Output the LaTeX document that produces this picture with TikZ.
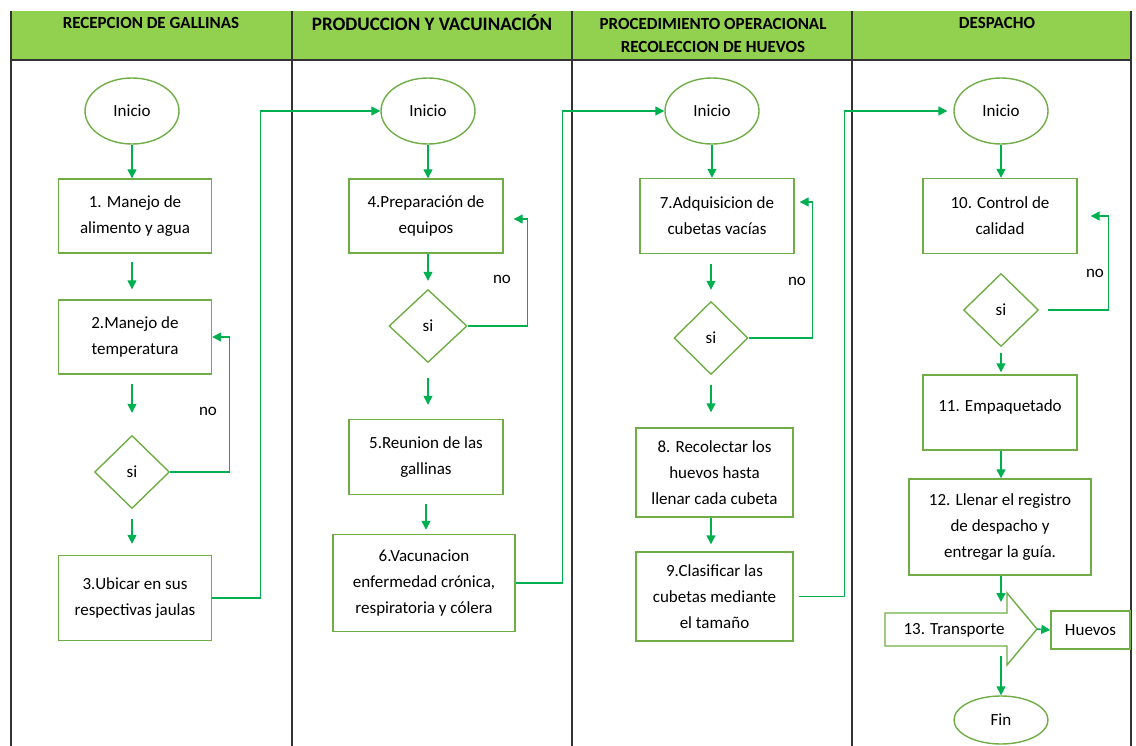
\documentclass[tikz,border=0pt]{standalone}
\usepackage{fontspec}
\setmainfont{Carlito}
\usetikzlibrary{shapes.geometric,arrows.meta,positioning}
\definecolor{headgreen}{RGB}{146,208,80}
\definecolor{shapegreen}{RGB}{112,173,71}
\definecolor{flowgreen}{RGB}{0,176,80}
\newcommand{\tx}{\fontsize{17}{26}\selectfont}

\begin{document}
\begin{tikzpicture}[x=1pt,y=-1pt,font=\tx,
   box/.style={draw=shapegreen,line width=1.4pt,align=center,inner sep=2pt},
   oval/.style={ellipse,draw=shapegreen,line width=1.4pt,minimum width=94,minimum height=66,inner sep=0pt},
   rhomb/.style={diamond,draw=shapegreen,line width=1.4pt,minimum width=75,minimum height=73,inner sep=0pt},
   flow/.style={draw=flowgreen,line width=1.4pt,-{Triangle[length=9pt,width=9pt]}},
   lane/.style={draw=black!80,line width=1.4pt},
   title/.style={font=\fontsize{17}{23}\selectfont\bfseries,align=center}]
   \useasboundingbox (0,0) rectangle (1136,746);
   % header and lanes
   \fill[headgreen] (11,11) rectangle (1131,60);
   \draw[lane] (11,60) -- (1131,60);
   \foreach \xl in {11,292,572,852,1131}
      \draw[lane] (\xl,11) -- (\xl,746);
   \node[title] (h1) at (151,23) {RECEPCION DE GALLINAS};
   \node[title,font=\fontsize{19}{23}\selectfont\bfseries] (h2) at (432,23) {PRODUCCION Y VACUINACIÓN};
   \node[title] (h3) at (713,35) {PROCEDIMIENTO OPERACIONAL\\RECOLECCION DE HUEVOS};
   \node[title] (h4) at (997,23) {DESPACHO};

   % recepcion
   \node[oval] (ini1) at (132,111) {Inicio};
   \node[box,minimum width=153,minimum height=74] (b1) at (135,216) {1. Manejo de\\alimento y agua};
   \node[box,minimum width=153,minimum height=74] (b2) at (135,337) {2.Manejo de\\temperatura};
   \node[rhomb] (d1) at (132,472) {si};
   \node[box,minimum width=153,minimum height=85] (b3) at (135,598) {3.Ubicar en sus\\respectivas jaulas};
   \node (no1) at (208,411) {no};
   \draw[flow] (ini1) -- (ini1 |- b1.north);
   \draw[flow,shorten <=8pt,shorten >=10pt] (b1.south -| ini1) -- (b2.north -| ini1);
   \draw[flow,shorten <=9pt,shorten >=22pt] (b2.south -| d1) -- (d1.north);
   \draw[flow,shorten <=10pt,shorten >=11pt] (d1) -- (d1 |- b3.north);
   \draw[flow] (d1.east) -- ++(59,0) |- (b2.east);

   % produccion
   \node[oval] (ini2) at (428,111) {Inicio};
   \node[box,minimum width=154,minimum height=74] (b4) at (426,216) {4.Preparación de\\equipos};
   \node[rhomb,minimum width=78] (d2) at (428,326) {si};
   \node[box,minimum width=154,minimum height=75] (b5) at (426,457) {5.Reunion de las\\gallinas};
   \node[box,minimum width=182,minimum height=97] (b6) at (424,583) {6.Vacunacion\\enfermedad crónica,\\respiratoria y cólera};
   \node (no2) at (502,279) {no};
   \draw[flow] (ini2) -- (ini2 |- b4.north);
   \draw[flow,shorten >=8pt] (b4.south -| d2) -- (d2.north);
   \draw[flow,shorten <=15pt,shorten >=14pt] (d2.south) -- (d2.south |- b5.north);
   \draw[flow,shorten <=9pt,shorten >=4pt] (b5) -- (b5 |- b6.north);
   \draw[flow,shorten >=10pt] (d2.east) -- ++(60,0) |- ([yshift=-3pt]b4.east);

   % recoleccion
   \node[oval] (ini3) at (712,111) {Inicio};
   \node[box,minimum width=154,minimum height=75] (b7) at (717,216) {7.Adquisicion de\\cubetas vacías};
   \node[rhomb,minimum width=74] (d3) at (711,338) {si};
   \node[box,minimum width=157,minimum height=89] (b8) at (714.5,472.5) {8. Recolectar los\\huevos hasta\\llenar cada cubeta};
   \node[box,minimum width=157,minimum height=89] (b9) at (714.5,596.5) {9.Clasificar las\\cubetas mediante\\el tamaño};
   \node (no3) at (797,281) {no};
   \draw[flow] (ini3) -- (ini3 |- b7.north);
   \draw[flow,shorten <=10pt,shorten >=11pt] (b7.south -| d3) -- (d3.north);
   \draw[flow,shorten <=10pt,shorten >=15pt] (d3.south) -- (d3.south |- b8.north);
   \draw[flow,shorten >=7pt] (b8.south -| d3) -- (b9.north -| d3);
   \draw[flow,shorten >=5pt] (d3.east) -- ++(64,0) |- ([yshift=14pt]b7.east);

   % despacho
   \node[oval] (ini4) at (1001,111) {Inicio};
   \node[box,minimum width=154,minimum height=75] (b10) at (1000,216) {10. Control de\\calidad};
   \node[rhomb] (d4) at (1001,310) {si};
   \node[box,minimum width=154,minimum height=75,text depth=14pt] (b11) at (1000,412.5) {11. Empaquetado};
   \node[box,minimum width=182,minimum height=96] (b12) at (1000,527) {12. Llenar el registro\\de despacho y\\entregar la guía.};
   \draw[draw=shapegreen,line width=1.4pt] (885,613) -- (1007,613) -- (1007,593) -- (1037,629)
      -- (1007,665) -- (1007,646) -- (885,646) -- cycle;
   \node (tr) at (954,630) {13. Transporte};
   \coordinate (trin) at (1001,602);
   \coordinate (trtip) at (1037,629);
   \coordinate (trout) at (1001,656);
   \node[box,minimum width=79,minimum height=38] (hv) at (1090.5,630) {Huevos};
   \node[oval,minimum height=48] (fin) at (1001,720) {Fin};
   \node (no4) at (1095,273) {no};
   \draw[flow] (ini4) -- (ini4 |- b10.north);
   \draw[flow,shorten <=6pt,shorten >=2pt] (d4.south) -- (d4.south |- b11.north);
   \draw[flow] (b11.south -| d4) -- (b12.north -| d4);
   \draw[flow] (b12.south -| trin) -- (trin);
   \draw[flow] (trtip) -- (hv.west);
   \draw[flow] (trout) -- (fin.north);
   \draw[flow,shorten <=9pt,shorten >=13pt] (d4.east) -- ++(69,0) |- (b10.east);

   % links between lanes
   \draw[flow] (b3.east) -- ++(48,0) |- (ini2.west);
   \draw[flow] (b6.east) -- ++(47,0) |- (ini3.west);
   \draw[flow,shorten <=5pt,shorten >=6pt] (b9.east) -- ++(51,0) |- (ini4.west);
\end{tikzpicture}
\end{document}
